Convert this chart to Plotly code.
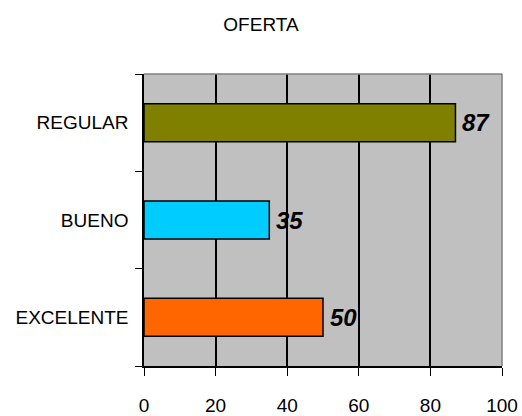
import plotly.graph_objects as go

# Survey results for "OFERTA"
categories = ["EXCELENTE", "BUENO", "REGULAR"]
values = [50, 35, 87]
bar_colors = ["#FF6600", "#00CCFF", "#808000"]
x_ticks = [0, 20, 40, 60, 80, 100]

FONT = "Liberation Sans, Arial, sans-serif"

fig = go.Figure(
    go.Bar(
        y=categories,
        x=values,
        orientation="h",
        marker=dict(color=bar_colors, line=dict(color="black", width=1.5)),
        hoverinfo="x+y",
    )
)

# value labels just past the end of each bar
for cat, val in zip(categories, values):
    fig.add_annotation(
        x=val, y=cat, xref="x", yref="y",
        text=str(val), showarrow=False,
        xanchor="left", yanchor="middle", xshift=5,
        font=dict(family=FONT, size=24, color="black", weight="bold", style="italic"),
    )

fig.update_layout(
    width=522,
    height=416,
    margin=dict(l=144, r=20, t=74, b=50),
    paper_bgcolor="white",
    plot_bgcolor="#C0C0C0",
    bargap=0.61,
    showlegend=False,
    font=dict(family=FONT, size=19, color="black"),
    title=dict(
        text="OFERTA",
        x=0.5,
        xref="container",
        xanchor="center",
        y=1 - 24 / 416,
        yref="container",
        yanchor="middle",
        font=dict(family=FONT, size=19, color="black"),
    ),
    xaxis=dict(
        range=[0, 100],
        tickvals=x_ticks,
        ticks="outside",
        ticklen=8,
        tickcolor="black",
        showline=True,
        linecolor="black",
        linewidth=1.5,
        showgrid=True,
        gridcolor="black",
        gridwidth=1.5,
        zeroline=False,
        ticklabelstandoff=13,
        automargin=False,
        fixedrange=True,
    ),
    yaxis=dict(
        categoryorder="array",
        categoryarray=categories,
        tickson="boundaries",
        ticks="outside",
        ticklen=7,
        tickcolor="black",
        showline=True,
        linecolor="black",
        linewidth=1.5,
        showgrid=False,
        zeroline=False,
        ticklabelstandoff=10,
        automargin=False,
        fixedrange=True,
    ),
)

# gray frame on the top and right edges of the plot area
fig.add_shape(type="line", xref="paper", yref="paper", x0=0, x1=1, y0=1, y1=1,
              line=dict(color="#808080", width=1.5), layer="above")
fig.add_shape(type="line", xref="paper", yref="paper", x0=1, x1=1, y0=0, y1=1,
              line=dict(color="#808080", width=1.5), layer="above")

fig.write_html("out.html")
